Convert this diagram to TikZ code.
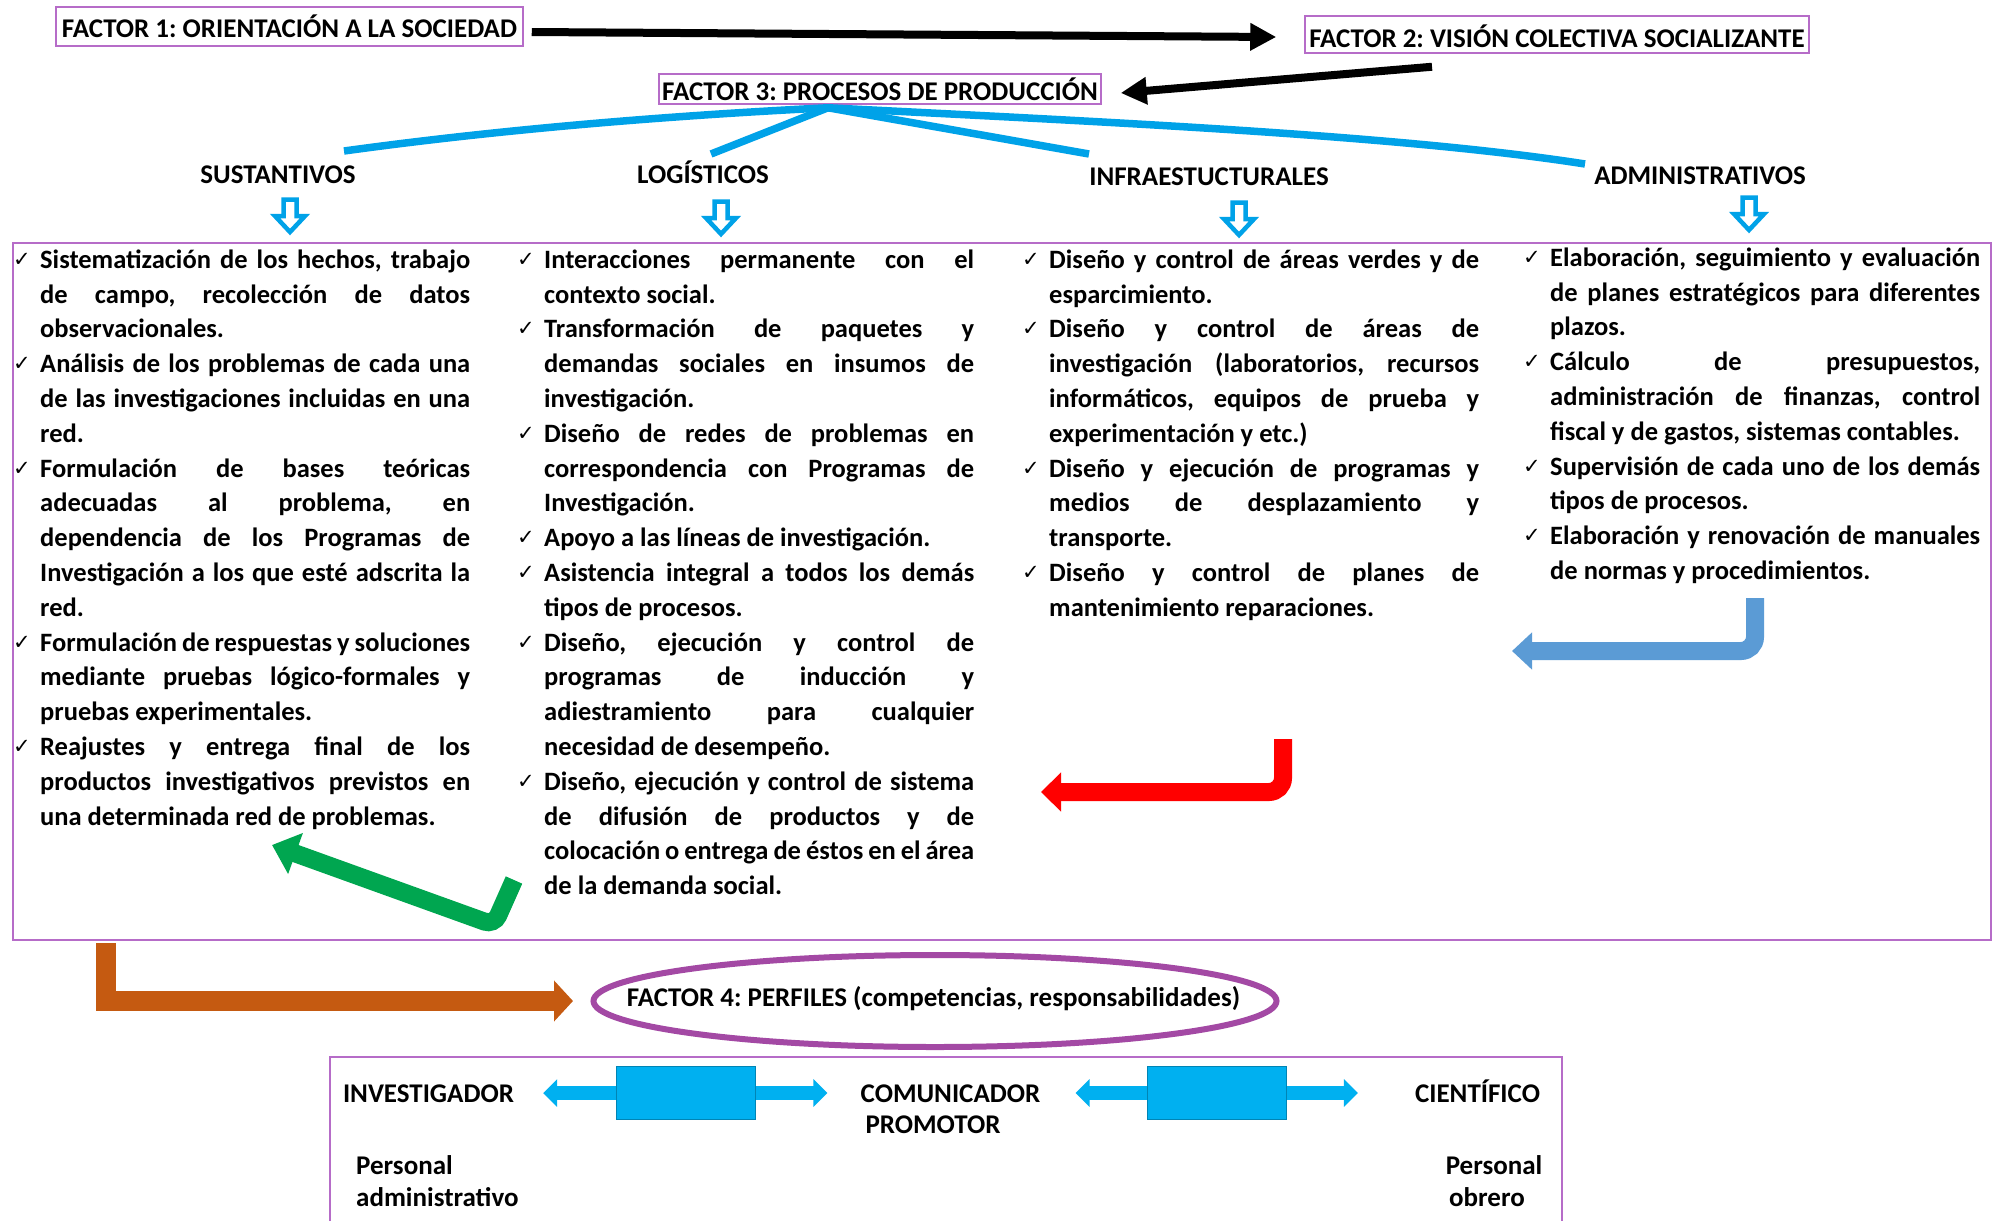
\documentclass[tikz,border=0pt]{standalone}
\usepackage{fontspec}
\setmainfont{Carlito}
\newfontfamily\chkfont{DejaVu Sans}
\usetikzlibrary{arrows.meta,shapes.geometric,calc}
\definecolor{orch}{RGB}{182,108,200}
\definecolor{sky}{RGB}{0,162,232}
\definecolor{skyb}{RGB}{0,176,240}
\definecolor{ellc}{RGB}{163,73,164}
\definecolor{grn}{RGB}{0,166,80}
\definecolor{redc}{RGB}{255,0,0}
\definecolor{stb}{RGB}{91,155,213}
\definecolor{org}{RGB}{197,90,17}
\frenchspacing
\newcommand\chk{\raisebox{2pt}{\chkfont\mdseries\fontsize{21}{21}\selectfont ✓}}
\newcommand\itmA{\noindent\hangindent=27pt\hangafter=1\makebox[27pt][l]{\chk}\ignorespaces}
\newcommand\itm{\par\itmA}
\newcommand\colsetup{\frenchspacing\tolerance=10000\hbadness=10000\hyphenpenalty=10000\exhyphenpenalty=10000\parskip=0pt\relax}
\newcommand\hollowdown[2]{\draw[sky,line width=4.5pt,fill=white,line join=miter,miter limit=4]
  (#1-6.5,#2+2.5) -- (#1+6.5,#2+2.5) -- (#1+6.5,#2+19) -- (#1+15,#2+19) -- (#1,#2+35) -- (#1-15,#2+19) -- (#1-6.5,#2+19) -- cycle;}
\begin{document}
\begin{tikzpicture}[x=1pt,y=-1pt,
  txt/.style={inner sep=0pt, font=\bfseries\fontsize{27}{32}\selectfont},
  fbox/.style={txt, draw=orch, line width=1.5pt},
  cat/.style={txt, anchor=base},
  colbox/.style={anchor=north west, inner sep=0pt, text width=457pt, align=justify,
     font=\bfseries\fontsize{26.5}{34.8}\selectfont\colsetup},
  blk/.style={line width=8pt, -{Triangle[length=26pt,width=26pt]}},
  bline/.style={sky, line width=7.5pt},
  bent/.style={line width=18pt, rounded corners=14pt},
  dbl/.style={skyb, line width=14pt, {Triangle[length=14pt,width=27pt]}-{Triangle[length=14pt,width=27pt]}},
  midbox/.style={fill=skyb, draw=skyb!75!black, line width=0.6pt, minimum width=139pt, minimum height=53pt, inner sep=0pt}
]
\useasboundingbox (0,0) rectangle (1999,1221);
\fill[white] (0,0) rectangle (1999,1221);

% factor boxes
\node[fbox, minimum width=467pt, minimum height=39pt, text height=24pt, text depth=3pt] (f1) at (289.5,26.5) {FACTOR 1: ORIENTACIÓN A LA SOCIEDAD};
\node[fbox, minimum width=504pt, minimum height=37pt, text height=26pt, text depth=1pt] (f2) at (1557,34.5) {FACTOR 2: VISIÓN COLECTIVA SOCIALIZANTE};
\node[fbox, minimum width=442pt, minimum height=30pt, text height=24pt, text depth=2pt] (f3) at (880,89) {FACTOR 3: PROCESOS DE PRODUCCIÓN};

\draw[blk] ([xshift=8pt,yshift=-5.5pt]f1.east) -- ([xshift=-28pt,yshift=-2.5pt]f2.west);
\draw[blk] ([xshift=-125pt,yshift=-13pt]f2.south) -- ([xshift=19pt,yshift=-4pt]f3.east);

% categories
\node[cat] (s1) at (278,183) {SUSTANTIVOS};
\node[cat] (s2) at (703,183) {LOGÍSTICOS};
\node[cat] (s3) at (1209,185) {INFRAESTUCTURALES};
\node[cat] (s4) at (1700,184) {ADMINISTRATIVOS};

\coordinate (apex) at ([xshift=-52pt,yshift=-3pt]f3.south);
\draw[bline] (apex) .. controls +(-160,8) and +(160,-22) .. ([xshift=66pt,yshift=32pt]s1.base);
\draw[bline] (apex) -- ([xshift=8pt,yshift=29pt]s2.base);
\draw[bline] (apex) -- ([xshift=-120pt,yshift=31pt]s3.base);
\draw[bline] (apex) .. controls +(272,14) and +(-185,-29) .. ([xshift=-115pt,yshift=20pt]s4.base);

% big box
\node[draw=orch, line width=2pt, minimum width=1978pt, minimum height=697pt, inner sep=0pt] (big) at (1002,591.5) {};

\hollowdown{290}{197}
\hollowdown{721}{199}
\hollowdown{1239}{200}
\hollowdown{1749}{195}

% columns
\node[colbox] (c1) at (13,244) {%
\itmA\rule{0pt}{24pt}Sistematización de los hechos, trabajo\linebreak de campo, recolección de datos\linebreak observacionales.
\itm Análisis de los problemas de cada una\linebreak de las investigaciones incluidas en una\linebreak red.
\itm Formulación de bases teóricas\linebreak adecuadas al problema, en\linebreak dependencia de los Programas de\linebreak Investigación a los que esté adscrita la\linebreak red.
\itm Formulación de respuestas y soluciones\linebreak mediante pruebas lógico-formales y\linebreak pruebas experimentales.
\itm Reajustes y entrega final de los\linebreak productos investigativos previstos en\linebreak una determinada red de problemas.\par};

\node[colbox] (c2) at (517,244) {%
\itmA\rule{0pt}{24pt}Interacciones permanente con el\linebreak contexto social.
\itm Transformación de paquetes y\linebreak demandas sociales en insumos de\linebreak investigación.
\itm Diseño de redes de problemas en\linebreak correspondencia con Programas de\linebreak Investigación.
\itm Apoyo a las líneas de investigación.
\itm Asistencia integral a todos los demás\linebreak tipos de procesos.
\itm Diseño, ejecución y control de\linebreak programas de inducción y\linebreak adiestramiento para cualquier\linebreak necesidad de desempeño.
\itm Diseño, ejecución y control de sistema\linebreak de difusión de productos y de\linebreak colocación o entrega de éstos en el área\linebreak de la demanda social.\par};

\node[colbox] (c3) at (1022,244) {%
\itmA\rule{0pt}{24pt}Diseño y control de áreas verdes y de\linebreak esparcimiento.
\itm Diseño y control de áreas de\linebreak investigación (laboratorios, recursos\linebreak informáticos, equipos de prueba y\linebreak experimentación y etc.)
\itm Diseño y ejecución de programas y\linebreak medios de desplazamiento y\linebreak transporte.
\itm Diseño y control de planes de\linebreak mantenimiento reparaciones.\par};

\node[colbox] (c4) at (1523,242) {%
\itmA\rule{0pt}{24pt}Elaboración, seguimiento y evaluación\linebreak de planes estratégicos para diferentes\linebreak plazos.
\itm Cálculo de presupuestos,\linebreak administración de finanzas, control\linebreak fiscal y de gastos, sistemas contables.
\itm Supervisión de cada uno de los demás\linebreak tipos de procesos.
\itm Elaboración y renovación de manuales\linebreak de normas y procedimientos.\par};

% bent arrows
\draw[bent, grn, rounded corners=10pt, -{Triangle[length=25pt,width=42pt]}] (514,880) -- (494,925) -- (272,845);
\draw[bent, redc, -{Triangle[length=20pt,width=38pt]}] (1283,739) -- (1283,792) -- (1041,792);
\draw[bent, stb, -{Triangle[length=20pt,width=36pt]}] (1755,598) -- (1755,651) -- (1512,651);

% factor 4
\node[ellipse, draw=ellc, line width=6pt, minimum width=683pt, minimum height=92pt, inner sep=0pt] (f4) at (935,1001) {};
\node[cat] (f4t) at (933.5,1006) {FACTOR 4: PERFILES (competencias, responsabilidades)};
\draw[org, line width=20pt, -{Triangle[length=19pt,width=40pt]}] ([xshift=93.5pt,yshift=-2pt]big.south west) |- ([xshift=-17.5pt]f4.west);

% bottom box
\draw[orch, line width=1.5pt] (330,1221) -- (330,1057) -- (1562,1057) -- (1562,1221);
\node[cat] (inv) at (428.5,1102) {INVESTIGADOR};
\node[cat] (com) at (950.5,1102) {COMUNICADOR};
\node[cat] (pro) at (933,1133) {PROMOTOR};
\node[cat] (cie) at (1477.5,1102) {CIENTÍFICO};
\node[cat, anchor=base west] (pa1) at (356,1174) {Personal};
\node[cat, anchor=base west] (pa2) at (356,1206) {administrativo};
\node[cat] (po1) at (1494,1174) {Personal};
\node[cat] (po2) at (1487,1206) {obrero};

\draw[dbl] ([xshift=29pt,yshift=9pt]inv.base east) -- ([xshift=-33pt,yshift=9pt]com.base west) node[midway, midbox] (r1) {};
\draw[dbl] ([xshift=35pt,yshift=9pt]com.base east) -- ([xshift=-57pt,yshift=9pt]cie.base west) node[midway, midbox] (r2) {};
\end{tikzpicture}
\end{document}
